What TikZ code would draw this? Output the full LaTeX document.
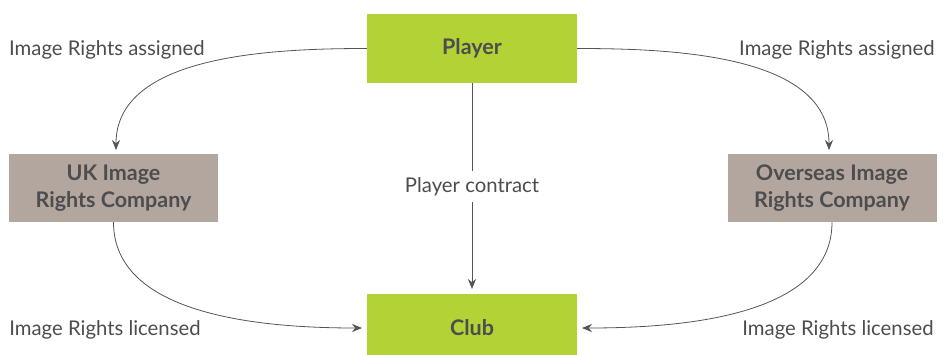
\documentclass[tikz,border=0pt]{standalone}
\usepackage{fontspec}
\setmainfont{Lato}
\usetikzlibrary{arrows.meta}
\definecolor{lime}{HTML}{B3D235}
\definecolor{taupe}{HTML}{B3A69E}
\definecolor{ink}{HTML}{4D4D4F}
\definecolor{wire}{HTML}{555555}
\begin{document}
\begin{tikzpicture}[x=1pt,y=-1pt,
  greenbox/.style={fill=lime,minimum width=210pt,minimum height=69pt,inner sep=0pt,font=\fontsize{21.5}{27}\selectfont\bfseries,text=ink,align=center},
  greybox/.style={fill=taupe,minimum width=209pt,minimum height=68pt,inner sep=0pt,font=\fontsize{21.5}{27}\selectfont\bfseries,text=ink,align=center},
  lbl/.style={font=\fontsize{20.3}{24}\selectfont,text=ink,inner sep=1pt},
  conn/.style={draw=wire,line width=0.8pt,-{Stealth[length=10pt,width=8pt]}}]
\useasboundingbox (0,0) rectangle (951,354);
\node[greenbox] (player) at (472,48.5) {Player};
\node[greenbox] (club) at (472,328) {Club};
\node[greybox] (uk) at (113.5,188) {UK Image\\Rights Company};
\node[greybox] (os) at (832,188) {Overseas Image\\Rights Company};
\node[lbl] (la1) at (107,49.5) {Image Rights assigned};
\node[lbl] (la2) at (837,49.5) {Image Rights assigned};
\node[lbl] (ll1) at (105,329.5) {Image Rights licensed};
\node[lbl] (ll2) at (838,329.5) {Image Rights licensed};
\node[lbl,fill=white,inner sep=6pt] (pc) at (472,186.5) {Player contract};
\coordinate (ukin) at (116,150);
\coordinate (osin) at (829,150);
\coordinate (clin) at (362,328);
\coordinate (crin) at (582,328);
\coordinate (clubtop) at (472,289);
\draw[conn] (player.west) to[out=180,in=90,looseness=0.9] (ukin);
\draw[conn] (player.east) to[out=0,in=90,looseness=0.9] (osin);
\draw[draw=wire,line width=0.8pt] (player.south) -- (pc.north);
\draw[conn] (pc.south) -- (clubtop);
\draw[conn] (uk.south) to[out=-90,in=180,looseness=0.9] (clin);
\draw[conn] (os.south) to[out=-90,in=0,looseness=0.9] (crin);
\end{tikzpicture}
\end{document}
